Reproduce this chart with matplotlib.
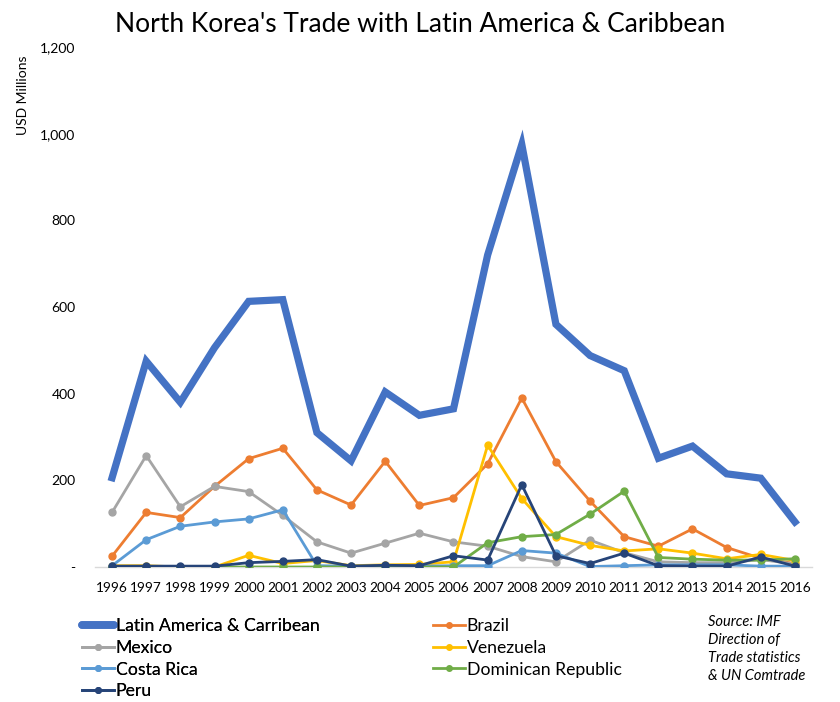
import matplotlib.pyplot as plt
from matplotlib.lines import Line2D

plt.rcParams['font.family'] = ['Lato', 'DejaVu Sans']

years = [str(y) for y in range(1996, 2017)]

latam = [206, 475, 380, 506, 613, 617, 310, 245, 404, 350, 365,
         720, 975, 560, 488, 453, 251, 279, 215, 205, 104]
brazil = [25, 126, 114, 186, 250, 274, 178, 143, 244, 142, 160,
          238, 390, 243, 152, 70, 48, 88, 45, 20, 8]
mexico = [126, 257, 139, 186, 174, 119, 58, 32, 55, 78, 58,
          48, 24, 12, 62, 33, 12, 10, 10, 17, 7]
venezuela = [3, 3, 0, 0, 27, 8, 15, 3, 5, 6, 12,
             281, 158, 70, 50, 37, 42, 32, 19, 29, 15]
costa_rica = [3, 63, 94, 104, 111, 132, 3, 2, 2, 2, 3,
              3, 38, 32, 1, 3, 5, 5, 5, 2, 2]
dominican = [0, 0, 0, 0, 0, 0, 0, 0, 0, 0, 0,
             56, 70, 75, 122, 175, 22, 18, 16, 16, 19]
peru = [2, 2, 2, 2, 10, 13, 17, 2, 4, 3, 26,
        16, 190, 26, 8, 32, 3, 2, 2, 23, 2]

yticks = [0, 200, 400, 600, 800, 1000, 1200]
ytick_labels = ['-', '200', '400', '600', '800', '1,000', '1,200']

fig = plt.figure(figsize=(8.4, 7.02), dpi=100)
ax = fig.add_axes([95 / 840, 135 / 702, 717 / 840, 520 / 702])

x = range(len(years))
series = [
    ('Latin America & Carribean', latam, '#4472C4', 5.2),
    ('Brazil', brazil, '#ED7D31', 2.0),
    ('Mexico', mexico, '#A5A5A5', 2.0),
    ('Venezuela', venezuela, '#FFC000', 2.0),
    ('Costa Rica', costa_rica, '#5B9BD5', 2.0),
    ('Dominican Republic', dominican, '#70AD47', 2.0),
    ('Peru', peru, '#264478', 2.0),
]
handles = {}
for name, vals, col, lw in series:
    if lw > 3:
        ln, = ax.plot(x, vals, color=col, lw=lw, solid_joinstyle='miter', zorder=2)
    else:
        ln, = ax.plot(x, vals, color=col, lw=lw, marker='o', markersize=5, zorder=3)
    handles[name] = ln

ax.set_xlim(-0.5, len(years) - 0.5)
ax.set_ylim(0, 1200)
ax.set_xticks(list(x))
ax.set_xticklabels(years, fontsize=9.8)
ax.set_yticks(yticks)
ax.set_yticklabels(ytick_labels, fontsize=10)
ax.tick_params(axis='y', length=0, pad=14)
ax.tick_params(axis='x', length=0, pad=11)
for s in ['top', 'right', 'left']:
    ax.spines[s].set_visible(False)
ax.spines['bottom'].set_color('#D9D9D9')
ax.spines['bottom'].set_linewidth(1)
ax.spines['bottom'].set_zorder(1)

fig.text(420 / 840, 1 - 24 / 702, "North Korea's Trade with Latin America & Caribbean",
         ha='center', va='center', fontsize=19)
fig.text(23 / 840, 1 - 95 / 702, 'USD Millions', rotation=90,
         ha='center', va='center', fontsize=10)
fig.text(708 / 840, 1 - 615 / 702,
         'Source: IMF\nDirection of\nTrade statistics\n& UN Comtrade',
         style='italic', ha='left', va='top', fontsize=10.5, linespacing=1.35)

def leg_handle(name):
    h = handles[name]
    if h.get_linewidth() > 3:
        return Line2D([], [], color=h.get_color(), lw=5.5, solid_capstyle='round')
    return Line2D([], [], color=h.get_color(), lw=2, marker='o', markersize=4)

col1 = ['Latin America & Carribean', 'Mexico', 'Costa Rica', 'Peru']
col2 = ['Brazil', 'Venezuela', 'Dominican Republic']
leg_kw = dict(frameon=False, borderpad=0, borderaxespad=0, handlelength=1.8,
              handletextpad=0.1, labelspacing=0.33, fontsize=12.7, loc='upper left')
leg1 = fig.legend([leg_handle(n) for n in col1], col1,
                  bbox_to_anchor=(82 / 840, 1 - 618 / 702), **leg_kw)
fig.add_artist(leg1)
fig.legend([leg_handle(n) for n in col2], col2,
           bbox_to_anchor=(433 / 840, 1 - 618 / 702), **leg_kw)

fig.savefig('out.png', dpi=100)
